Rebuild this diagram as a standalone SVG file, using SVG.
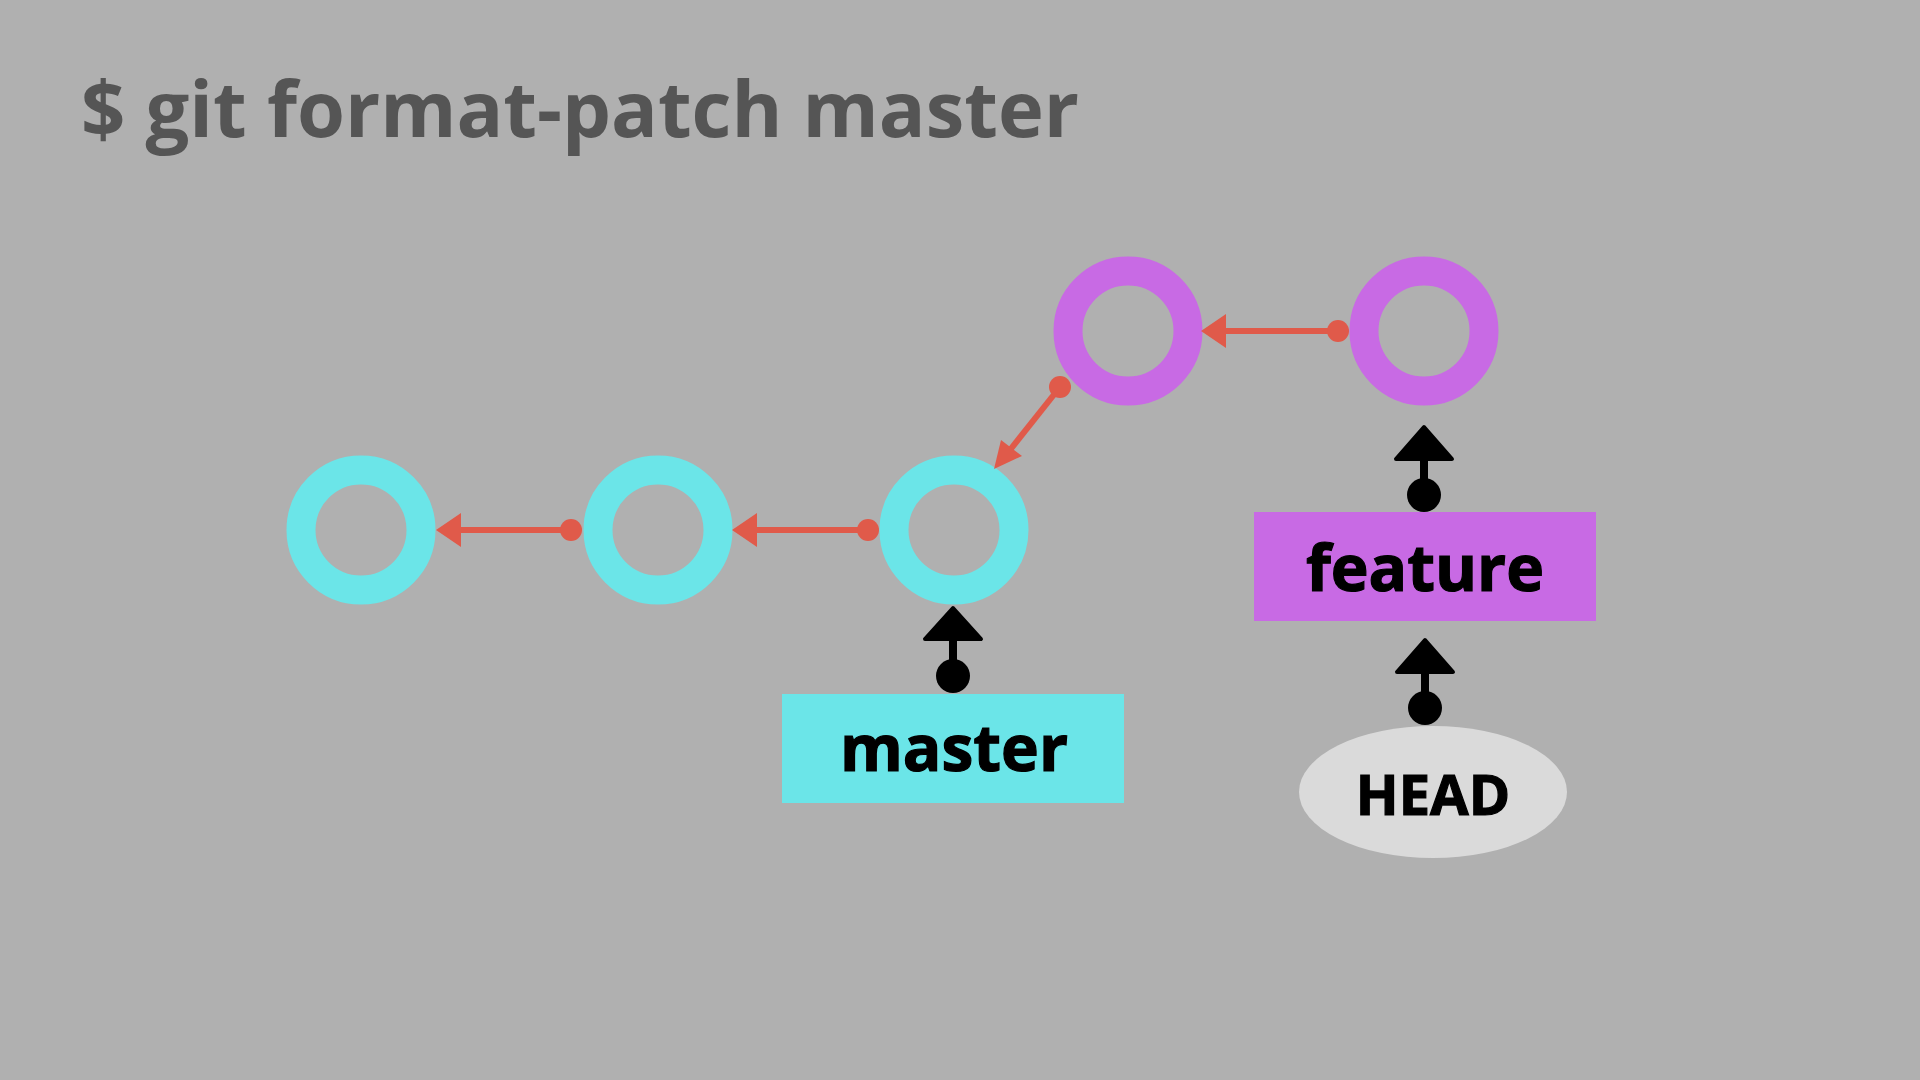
<svg xmlns="http://www.w3.org/2000/svg" width="1920" height="1080" viewBox="0 0 1920 1080">
<defs>
<style>
.bg{fill:#b0b0b0}
.cc{fill:none;stroke:#6be5e8;stroke-width:29}
.pc{fill:none;stroke:#c86ae4;stroke-width:29}
.rl{stroke:#e05a4a;stroke-width:6;fill:none}
.rd{fill:#e05a4a}
.bl{stroke:#000;stroke-width:8;fill:none}
.bh{fill:#000;stroke:#000;stroke-width:4;stroke-linejoin:round}
.lbl{font-family:"Open Sans","Noto Sans",sans-serif;font-weight:bold;fill:#000;stroke:#000;stroke-width:1.2;text-anchor:middle}
</style>
</defs>
<rect class="bg" width="1920" height="1080"/>
<text id="title" x="81" y="137" style="font-family:'Open Sans','Noto Sans',sans-serif;font-weight:bold;font-size:77.6px;fill:#555555">$ git format-patch master</text>

<g id="c1"><circle class="cc" cx="361" cy="530" r="60"/></g>
<g id="c2"><circle class="cc" cx="658" cy="530" r="60"/></g>
<g id="c3"><circle class="cc" cx="954" cy="530" r="60"/></g>
<g id="p1"><circle class="pc" cx="1128" cy="331" r="60"/></g>
<g id="p2"><circle class="pc" cx="1424" cy="331" r="60"/></g>

<g id="master"><rect x="782" y="694" width="342" height="109" fill="#6be5e8"/><text class="lbl" x="954" y="771" font-size="64">master</text></g>
<g id="feature"><rect x="1254" y="512" width="342" height="109" fill="#c86ae4"/><text class="lbl" x="1425" y="591" font-size="64">feature</text></g>
<g id="head"><ellipse cx="1433" cy="792" rx="134" ry="66" fill="#dadada"/><text class="lbl" x="1433" y="815" font-size="56">HEAD</text></g>

<g id="connectors">
<line class="rl" x1="571" y1="530" x2="455" y2="530"/><circle class="rd" cx="571" cy="530" r="11"/><polygon class="rd" points="436,530 461,513 461,547"/>
<line class="rl" x1="868" y1="530" x2="752" y2="530"/><circle class="rd" cx="868" cy="530" r="11"/><polygon class="rd" points="732,530 757,513 757,547"/>
<line class="rl" x1="1338" y1="331" x2="1220" y2="331"/><circle class="rd" cx="1338" cy="331" r="11"/><polygon class="rd" points="1201,331 1226,314 1226,348"/>
<line class="rl" x1="1060" y1="387" x2="1006" y2="455"/><circle class="rd" cx="1060" cy="387" r="11"/><polygon class="rd" points="994,469 1001,440 1022,456"/>

<line class="bl" x1="953" y1="676" x2="953" y2="636"/><circle cx="953" cy="676" r="17"/><polygon class="bh" points="953,608 981,639 925,639"/>
<line class="bl" x1="1424" y1="495" x2="1424" y2="456"/><circle cx="1424" cy="495" r="17"/><polygon class="bh" points="1424,427 1452,459 1396,459"/>
<line class="bl" x1="1425" y1="708" x2="1425" y2="669"/><circle cx="1425" cy="708" r="17"/><polygon class="bh" points="1425,640 1453,672 1397,672"/>
</g>
</svg>
